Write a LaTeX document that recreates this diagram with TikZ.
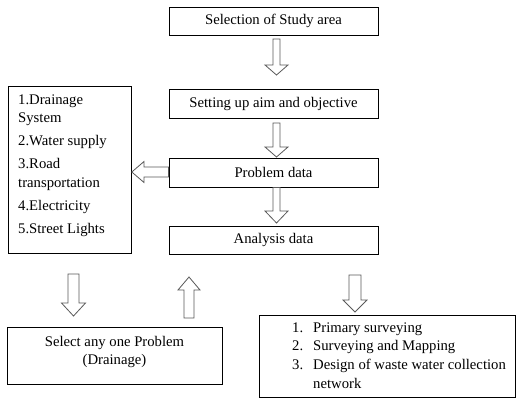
\documentclass[tikz,border=0pt]{standalone}
\usepackage{fontspec}
\setmainfont{Liberation Serif}
\newcommand{\blkdown}[6]{% x, shaft start y, head base y, tip y, shaft half, head half
  \draw[blkarrow] (#1-#5,#2) -- (#1+#5,#2) -- (#1+#5,#3) -- (#1+#6,#3) -- (#1,#4) -- (#1-#6,#3) -- (#1-#5,#3) -- cycle;}
\begin{document}
\begin{tikzpicture}[x=1pt,y=-1pt,
  every node/.style={font=\fontsize{14.7}{18.5}\selectfont, inner sep=0pt},
  flowbox/.style={draw=black, line width=0.8pt, minimum width=209pt},
  blkarrow/.style={draw=black!65, line width=0.8pt, fill=white, line join=miter}]
\useasboundingbox (0,0) rectangle (516,398);
% main column
\node[flowbox, minimum height=28pt] (b1) at (273.5,21) {Selection of Study area};
\node[flowbox, minimum height=29pt] (b2) at (273.5,103.5) {Setting up aim and objective};
\node[flowbox, minimum height=29pt] (b3) at (273.5,172.5) {Problem data};
\node[flowbox, minimum height=28pt] (b4) at (273.5,240) {Analysis data};
% left list box
\node[draw=black, line width=0.8pt, minimum width=123pt, minimum height=167pt, anchor=north west] (lst) at (8,86) {};
\node[anchor=north west, align=left] (lsttext) at (18,94.3) {1.Drainage\\System\\[4.5pt]2.Water supply\\[4.5pt]3.Road\\transportation\\[4.5pt]4.Electricity\\[4.5pt]5.Street Lights};
% select problem box
\node[draw=black, line width=0.8pt, minimum width=215pt, minimum height=57pt, anchor=north west] (sel) at (7,327) {};
\node[align=center, anchor=north] (seltext) at (114.5,336) {Select any one Problem\\(Drainage)};
% result box
\node[draw=black, line width=0.8pt, minimum width=256pt, minimum height=82pt, anchor=north west] (res) at (259,315) {};
\node[anchor=north west, align=left, font=\fontsize{14.7}{18.7}\selectfont] (restext) at (292,322.3) {\makebox[21pt][l]{1.}Primary surveying\\\makebox[21pt][l]{2.}Surveying and Mapping\\\makebox[21pt][l]{3.}Design of waste water collection\\\hspace*{21pt}network};
% block arrows
\blkdown{276.5}{39}{65}{75}{3.5}{11.5}
\blkdown{276.5}{123}{147}{157}{3.5}{11.5}
\blkdown{276.5}{187.4}{211}{223}{3.5}{11.5}
\blkdown{73.5}{274}{303}{316}{5.5}{12}
\blkdown{189}{318}{290}{277}{5}{11}
\blkdown{355}{275}{300}{312}{6}{12}
% left arrow from Problem data to list
\draw[blkarrow] (b3.west |- 0,167) -- (144,167) -- (144,161.5) -- (lst.east |- 0,172) -- (144,182.5) -- (144,177) -- (b3.west |- 0,177) -- cycle;
\end{tikzpicture}
\end{document}
